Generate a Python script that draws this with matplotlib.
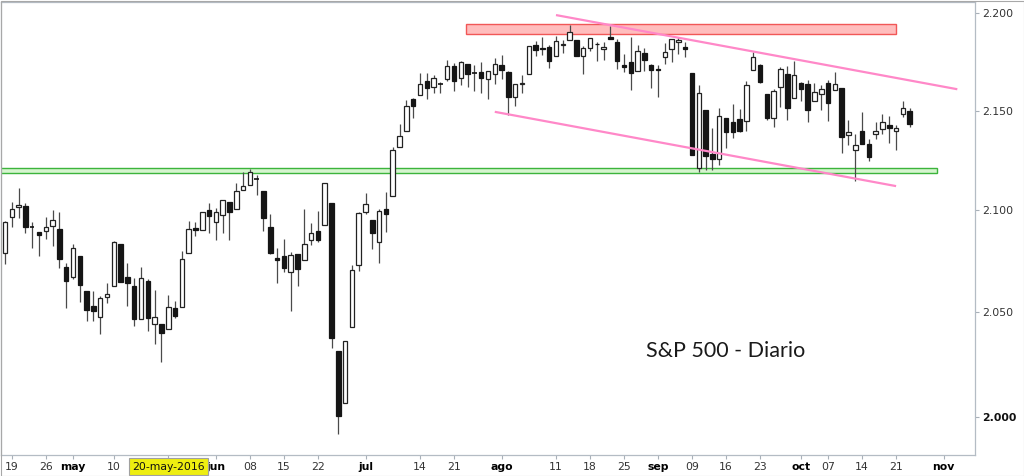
import matplotlib
matplotlib.use("Agg")
import matplotlib.pyplot as plt
from matplotlib.patches import Rectangle
from matplotlib.ticker import FixedLocator, NullLocator, FixedFormatter
import pandas as pd

# ---------------- data ----------------
holidays = ["2016-05-30", "2016-07-04", "2016-09-05"]
opens = [2078.83, 2096.47, 2101.52, 2102.09, 2091.49, 2089.37, 2089.84, 2092.33, 2090.93, 2071.82,
         2067.17, 2077.18, 2060.30, 2052.95, 2047.77, 2057.55, 2062.63, 2083.29, 2067.17, 2062.50,
         2046.53, 2065.37, 2044.38, 2044.21, 2041.88, 2052.23, 2052.65, 2078.93, 2091.44, 2090.06,
         2100.13, 2093.94, 2097.71, 2104.07, 2100.83, 2110.18, 2112.71, 2115.65, 2109.57, 2091.75,
         2076.65, 2077.60, 2069.36, 2078.20, 2075.58, 2085.19, 2089.75, 2092.80, 2103.81, 2031.45,
         2006.67, 2042.69, 2073.17, 2099.34, 2095.05, 2084.43, 2100.42, 2106.97, 2131.72, 2139.50,
         2155.81, 2157.88, 2165.13, 2162.04, 2163.79, 2166.10, 2172.91, 2166.47, 2173.71, 2168.97,
         2169.81, 2166.05, 2168.83, 2173.15, 2169.94, 2156.81, 2163.51, 2168.79, 2183.76, 2182.24,
         2182.81, 2177.97, 2183.74, 2186.08, 2186.24, 2177.84, 2181.90, 2184.24, 2181.58, 2187.81,
         2185.09, 2173.29, 2175.10, 2170.19, 2179.45, 2173.56, 2171.33, 2177.49, 2181.61, 2185.17,
         2182.76, 2169.08, 2120.86, 2150.47, 2127.86, 2125.36, 2146.48, 2143.99, 2145.94, 2144.58,
         2170.94, 2173.29, 2158.54, 2146.04, 2161.85, 2168.90, 2156.51, 2164.33, 2163.37, 2155.15,
         2158.22, 2164.19, 2160.39, 2161.35, 2137.67, 2130.26, 2139.68, 2132.95, 2138.31, 2140.81,
         2142.51, 2139.43, 2148.50, 2149.72]
highs = [2094.66, 2104.05, 2111.05, 2103.78, 2094.32, 2089.37, 2096.87, 2099.89, 2099.30, 2073.85,
         2083.42, 2077.18, 2060.30, 2060.23, 2057.72, 2064.15, 2084.87, 2083.29, 2073.99, 2066.79,
         2071.88, 2065.92, 2060.61, 2044.21, 2058.35, 2055.58, 2079.67, 2094.73, 2094.30, 2099.06,
         2103.48, 2100.97, 2105.26, 2104.07, 2113.36, 2119.22, 2120.55, 2117.64, 2109.57, 2098.12,
         2081.30, 2085.65, 2079.62, 2078.20, 2100.66, 2093.66, 2099.71, 2113.32, 2103.81, 2031.45,
         2036.09, 2073.13, 2098.94, 2108.71, 2095.05, 2100.72, 2109.08, 2131.71, 2143.16, 2155.40,
         2156.45, 2169.05, 2169.05, 2168.35, 2164.63, 2175.63, 2174.56, 2175.11, 2173.71, 2173.54,
         2174.98, 2170.22, 2177.09, 2178.29, 2170.20, 2163.79, 2168.19, 2182.87, 2185.44, 2187.66,
         2183.41, 2188.45, 2186.28, 2193.81, 2186.24, 2183.08, 2187.03, 2185.00, 2185.15, 2193.42,
         2186.66, 2179.00, 2187.94, 2183.48, 2182.27, 2173.79, 2173.56, 2184.87, 2186.57, 2187.87,
         2184.94, 2169.08, 2163.30, 2150.47, 2141.33, 2151.31, 2146.48, 2153.61, 2150.80, 2165.11,
         2179.99, 2173.75, 2158.54, 2161.13, 2172.40, 2172.67, 2175.30, 2164.41, 2165.46, 2163.95,
         2162.93, 2165.86, 2169.60, 2161.56, 2145.36, 2138.19, 2149.19, 2135.70, 2144.38, 2148.44,
         2147.18, 2142.63, 2154.79, 2151.44]
lows = [2073.65, 2091.68, 2096.32, 2088.52, 2081.20, 2077.52, 2085.80, 2082.31, 2071.62, 2052.28,
        2066.11, 2054.89, 2045.55, 2045.77, 2039.45, 2054.31, 2062.63, 2064.46, 2053.13, 2043.13,
        2046.53, 2040.82, 2034.49, 2025.91, 2041.88, 2047.26, 2052.65, 2078.93, 2087.08, 2090.06,
        2088.66, 2085.10, 2088.59, 2085.36, 2100.83, 2110.18, 2112.71, 2107.73, 2089.96, 2078.46,
        2064.10, 2069.80, 2050.37, 2062.84, 2075.58, 2083.02, 2084.36, 2092.80, 2032.57, 1991.68,
        2006.67, 2042.69, 2070.00, 2097.90, 2080.86, 2074.02, 2089.39, 2106.97, 2131.72, 2139.50,
        2146.21, 2157.88, 2155.79, 2159.07, 2159.01, 2164.89, 2159.75, 2163.24, 2161.95, 2160.18,
        2159.07, 2156.08, 2163.49, 2166.21, 2147.58, 2152.32, 2159.07, 2168.79, 2177.85, 2178.61,
        2172.00, 2177.97, 2179.42, 2186.08, 2178.14, 2168.50, 2180.46, 2175.13, 2175.96, 2186.80,
        2171.25, 2169.74, 2160.39, 2170.19, 2170.41, 2161.35, 2157.09, 2173.59, 2175.10, 2179.07,
        2177.49, 2127.81, 2119.12, 2120.27, 2119.90, 2122.36, 2131.20, 2135.91, 2139.17, 2139.57,
        2170.94, 2163.97, 2145.04, 2141.55, 2151.79, 2145.20, 2156.51, 2154.77, 2144.01, 2155.15,
        2150.28, 2144.85, 2160.39, 2128.84, 2132.77, 2114.72, 2132.98, 2124.43, 2135.49, 2138.15,
        2133.44, 2130.09, 2146.91, 2141.93]
closes = [2094.34, 2100.80, 2102.40, 2091.48, 2091.58, 2087.79, 2091.70, 2095.15, 2075.81, 2065.30,
          2081.43, 2063.37, 2051.12, 2050.63, 2057.14, 2058.69, 2084.39, 2064.46, 2064.11, 2046.61,
          2066.66, 2047.21, 2047.63, 2040.04, 2052.32, 2048.04, 2076.06, 2090.54, 2090.10, 2099.06,
          2096.95, 2099.33, 2105.26, 2099.13, 2109.41, 2112.13, 2119.12, 2115.48, 2096.07, 2079.06,
          2075.32, 2071.50, 2077.99, 2071.22, 2083.25, 2088.90, 2085.45, 2113.32, 2037.41, 2000.54,
          2036.09, 2070.77, 2098.86, 2102.95, 2088.55, 2099.73, 2097.90, 2129.90, 2137.16, 2152.14,
          2152.43, 2163.75, 2161.74, 2166.89, 2163.78, 2173.02, 2165.17, 2175.03, 2168.48, 2169.18,
          2166.58, 2170.06, 2173.60, 2170.84, 2157.03, 2163.79, 2164.25, 2182.87, 2180.89, 2181.74,
          2175.49, 2185.79, 2184.05, 2190.15, 2178.15, 2182.22, 2187.02, 2183.87, 2182.64, 2186.90,
          2175.44, 2172.47, 2169.04, 2180.38, 2176.12, 2170.95, 2170.86, 2179.98, 2186.48, 2186.16,
          2181.30, 2127.81, 2159.04, 2127.02, 2125.77, 2147.26, 2139.16, 2139.12, 2139.76, 2163.12,
          2177.18, 2164.69, 2146.10, 2159.93, 2171.37, 2151.13, 2168.27, 2161.20, 2150.49, 2159.73,
          2160.77, 2153.74, 2163.66, 2136.73, 2139.18, 2132.55, 2132.98, 2126.50, 2139.60, 2144.29,
          2141.34, 2141.16, 2151.33, 2143.16]

tick_dates = ["2016-04-19", "2016-04-26", "2016-05-02", "2016-05-10", "2016-05-20", "2016-06-01",
              "2016-06-08", "2016-06-15", "2016-06-22", "2016-07-01", "2016-07-14", "2016-07-21",
              "2016-08-01", "2016-08-11", "2016-08-18", "2016-08-25", "2016-09-01", "2016-09-09",
              "2016-09-16", "2016-09-23", "2016-10-03", "2016-10-07", "2016-10-14", "2016-10-21",
              "2016-11-01"]
tick_labels = ["19", "26", "may", "10", "", "jun", "08", "15", "22", "jul", "14", "21", "ago",
               "11", "18", "25", "sep", "09", "16", "23", "oct", "07", "14", "21", "nov"]
month_labels = {"may", "jun", "jul", "ago", "sep", "oct", "nov"}
cursor_label = "20-may-2016"
cursor_date = "2016-05-20"

y_ticks = [2000, 2050, 2100, 2150, 2200]
y_tick_labels = ["2.000", "2.050", "2.100", "2.150", "2.200"]

support_band = (2118.4, 2121.2)
support_span = ("2016-04-15", "2016-10-31")
resistance_band = (2189.1, 2194.4)
resistance_span = ("2016-07-25", "2016-10-21")
upper_channel = (("2016-08-11", 2199.1), ("2016-11-03", 2160.9))
lower_channel = (("2016-07-29", 2149.4), ("2016-10-21", 2112.0))
title_text = "S&P 500 - Diario"

# ---------------- calendar (trading-day index) ----------------
cal = [d for d in pd.bdate_range("2016-04-15", "2016-11-30").strftime("%Y-%m-%d") if d not in holidays]
start = cal.index("2016-04-18")
pos = {d: i - start for i, d in enumerate(cal)}
xs = list(range(len(opens)))

# ---------------- figure ----------------
W, H = 1024, 476
fig = plt.figure(figsize=(W / 100, H / 100), dpi=100)
ax = fig.add_axes([1 / W, 21 / H, 974 / W, 453 / H])
ax.set_yscale("log")
ax.set_xlim(-0.59, 142.6)
ax.set_ylim(1982.0, 2205.9)

# bands
s0, s1 = pos[support_span[0]], pos[support_span[1]]
ax.add_patch(Rectangle((s0, support_band[0]), s1 - s0, support_band[1] - support_band[0],
                       facecolor="#d6f5cf", edgecolor="#3cb43c", lw=1.0, zorder=1))
r0, r1 = pos[resistance_span[0]] - 0.2, pos[resistance_span[1]]
ax.add_patch(Rectangle((r0, resistance_band[0]), r1 - r0, resistance_band[1] - resistance_band[0],
                       facecolor="#ffb6b6", edgecolor="#f04848", lw=1.0, zorder=1, alpha=0.9))

# candles
bw = 0.66
for x, o, h, l, c in zip(xs, opens, highs, lows, closes):
    ax.vlines(x, l, h, color="#4a4a4a", lw=0.9, zorder=2)
    up = c >= o
    lo, hi = (o, c) if up else (c, o)
    if hi - lo < 0.3:
        ax.hlines((o + c) / 2, x - bw / 2, x + bw / 2, color="#111111", lw=1.2, zorder=3)
    else:
        ax.add_patch(Rectangle((x - bw / 2, lo), bw, hi - lo,
                               facecolor="white" if up else "#151515",
                               edgecolor="#222222" if up else "#151515", lw=0.9, zorder=3))

# channel lines
for (d0, v0), (d1, v1) in (upper_channel, lower_channel):
    ax.plot([pos[d0], pos[d1]], [v0, v1], color="#ff88c8", lw=1.6, zorder=5, solid_capstyle="butt")

# y axis
ax.yaxis.tick_right()
ax.yaxis.set_major_locator(FixedLocator(y_ticks))
ax.yaxis.set_major_formatter(FixedFormatter(y_tick_labels))
ax.yaxis.set_minor_locator(NullLocator())
ax.tick_params(axis="y", which="both", direction="out", length=3, width=0.8, color="#a8b0b8",
               labelsize=7.8, labelcolor="#333333", pad=2)
for t in ax.get_yticklabels():
    if t.get_text() == "2.000":
        t.set_fontweight("bold")
        t.set_color("#111111")

# x axis
ax.set_xticks([pos[d] for d in tick_dates])
ax.set_xticklabels(tick_labels)
ax.tick_params(axis="x", direction="out", length=3, width=0.8, color="#a8b0b8",
               labelsize=7.8, labelcolor="#333333", pad=2)
for t in ax.get_xticklabels():
    if t.get_text() in month_labels:
        t.set_fontweight("bold")
        t.set_color("#000000")

for s in ax.spines.values():
    s.set_color("#b4bcc4")
    s.set_linewidth(0.9)

# cursor date box
xc = ax.transData.transform((pos[cursor_date], 2000))[0] / W
fig.text(xc, 1 - 466.5 / H, cursor_label, ha="center", va="center", fontsize=7.8, color="#111111",
         zorder=10, bbox=dict(boxstyle="square,pad=0.28", fc="#eeee10", ec="#a0a0a0", lw=0.8))

# title text
fig.text(646 / W, 1 - 357 / H, title_text, ha="left", va="baseline", fontsize=15.5,
         family="Lato", color="#1a1a1a")

# figure frame
fig.patches.append(Rectangle((0.5 / W, 0.5 / H), 1 - 1 / W, 1 - 1 / H, transform=fig.transFigure,
                             fill=False, edgecolor="#a8a8a8", lw=0.8))

fig.savefig("out.png", dpi=100)
